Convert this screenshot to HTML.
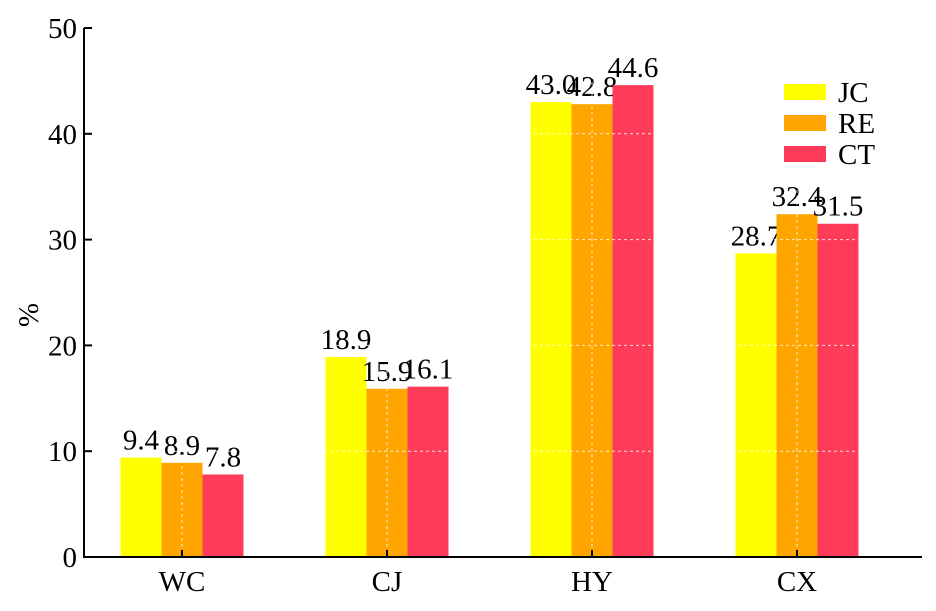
<!DOCTYPE html>
<html><head><meta charset="utf-8"><style>
body{margin:0;background:#fff;width:936px;height:606px;overflow:hidden}
text{font-family:"Liberation Serif",serif;fill:#000}
</style></head><body>
<svg id="chart" width="936" height="606" xmlns="http://www.w3.org/2000/svg"></svg>
<script>
const categories=["WC","CJ","HY","CX"];
const seriesNames=["JC","RE","CT"];
const jcValues=[9.4,18.9,43.0,28.7];
const reValues=[8.9,15.9,42.8,32.4];
const ctValues=[7.8,16.1,44.6,31.5];
const yTicks=[0,10,20,30,40,50];
const colors=["#ffff00","#ffa500","#ff3b5a"];
const series=[jcValues,reValues,ctValues];
const svg=document.getElementById('chart');
const NS="http://www.w3.org/2000/svg";
const x0=84,y0=557,yTop=28,xEnd=922;
const FS=29;
const y=v=>y0-(v/50)*(y0-yTop);
const gx=i=>182+i*205;
const bw=41;
function mk(tag,attrs,parent){const e=document.createElementNS(NS,tag);for(const k in attrs)e.setAttribute(k,attrs[k]);(parent||svg).appendChild(e);return e;}
categories.forEach((c,i)=>{
  series.forEach((s,j)=>{
    const bx=gx(i)-bw*1.5+j*bw;
    const r=mk('rect',{x:bx,y:y(s[i]),width:bw,height:y0-y(s[i]),fill:colors[j]});
    
    
    const t=mk('text',{x:bx+bw/2,y:y(s[i])-8,'text-anchor':'middle','font-size':FS});
    t.textContent=s[i].toFixed(1);
    
    
  });
});
yTicks.slice(1).forEach(v=>{
  const l=mk('line',{x1:x0,x2:xEnd,y1:y(v),y2:y(v),stroke:'#fff','stroke-width':1,'stroke-dasharray':'3,3','stroke-opacity':0.8});
  
  
});
categories.forEach((c,i)=>{
  const l=mk('line',{x1:gx(i),x2:gx(i),y1:yTop,y2:y0,stroke:'#fff','stroke-width':1,'stroke-dasharray':'3,3','stroke-opacity':0.8});
  
  
});
const ya=mk('line',{x1:x0,x2:x0,y1:yTop,y2:y0,stroke:'#000','stroke-width':2});


const xa=mk('line',{x1:x0-1,x2:xEnd,y1:y0,y2:y0,stroke:'#000','stroke-width':2});


yTicks.forEach(v=>{
  mk('line',{x1:x0,x2:x0+8,y1:y(v),y2:y(v),stroke:'#000','stroke-width':2});
  const t=mk('text',{x:x0-7,y:y(v)+10,'text-anchor':'end','font-size':FS});
  t.textContent=v;
  
  
});
categories.forEach((c,i)=>{
  mk('line',{x1:gx(i),x2:gx(i),y1:y0,y2:y0-7,stroke:'#000','stroke-width':2});
  const t=mk('text',{x:gx(i),y:591,'text-anchor':'middle','font-size':FS});
  t.textContent=c;
  
  
});
const yt=mk('text',{x:0,y:0,'text-anchor':'middle','font-size':FS,transform:'translate(38,315) rotate(-90)'});
yt.textContent='%';


seriesNames.forEach((n,j)=>{
  const ly=92+j*31;
  const r=mk('rect',{x:784,y:ly-8,width:42,height:16,fill:colors[j]});
  
  
  const t=mk('text',{x:838,y:ly+10,'font-size':FS});
  t.textContent=n;
  
  
});
</script>
</body></html>
